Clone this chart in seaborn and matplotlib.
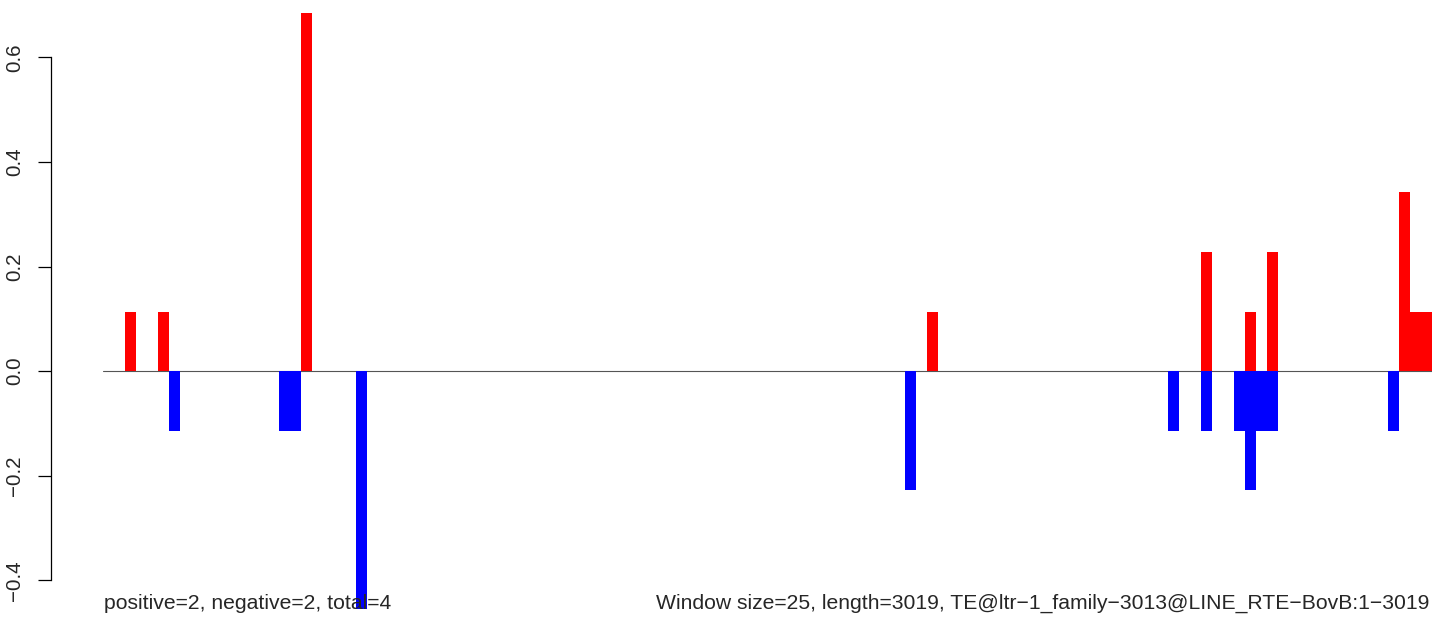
import matplotlib
matplotlib.use("Agg")
import matplotlib.pyplot as plt
import numpy as np
import pandas as pd
import seaborn as sns

# window count: length 3019 / window size 25
n_windows = 121

# windows with positive scores (red) and their values
pos_windows = [2, 5, 18, 75, 100, 104, 106, 118, 119, 120]
pos_values = [0.114, 0.114, 0.685, 0.114, 0.228, 0.114, 0.228, 0.343, 0.114, 0.114]

# windows with negative scores (blue) and their values
neg_windows = [6, 16, 17, 23, 73, 97, 100, 103, 104, 105, 106, 117]
neg_values = [-0.114, -0.114, -0.114, -0.456, -0.228, -0.114, -0.114,
              -0.114, -0.228, -0.114, -0.114, -0.114]

y_ticks = [-0.4, -0.2, 0.0, 0.2, 0.4, 0.6]
y_ticklabels = ["\u22120.4", "\u22120.2", "0.0", "0.2", "0.4", "0.6"]

left_text = "positive=2, negative=2, total=4"
right_text = ("Window size=25, length=3019, "
              "TE@ltr\u22121_family\u22123013@LINE_RTE\u2212BovB:1\u22123019")

df = pd.DataFrame({"window": np.arange(n_windows), "pos": 0.0, "neg": 0.0})
df.loc[pos_windows, "pos"] = pos_values
df.loc[neg_windows, "neg"] = neg_values

sns.set_style("white")
plt.rcParams["font.family"] = ["Liberation Sans", "DejaVu Sans"]

W, H = 1435, 617
fig = plt.figure(figsize=(W / 100, H / 100), dpi=100)
ax = fig.add_axes([103 / W, 8 / H, (1432 - 103) / W, (609 - 13) / H])

order = list(range(n_windows))
sns.barplot(data=df, x="window", y="pos", order=order, color="#ff0000",
            saturation=1, width=1, linewidth=0, errorbar=None, ax=ax, zorder=2)
sns.barplot(data=df, x="window", y="neg", order=order, color="#0000ff",
            saturation=1, width=1, linewidth=0, errorbar=None, ax=ax, zorder=2)

ax.axhline(0, color="#555555", lw=0.8, zorder=1)

ax.set_xlim(-0.5, n_windows - 0.5)
ax.set_ylim(-0.455, 0.685)
ax.set_xlabel("")
ax.set_ylabel("")
ax.set_xticks([])

for side in ["top", "right", "bottom"]:
    ax.spines[side].set_visible(False)
ax.spines["left"].set_position(("outward", 37.5))
ax.spines["left"].set_bounds(-0.4, 0.6)
ax.spines["left"].set_linewidth(0.9)
ax.spines["left"].set_color("black")

ax.set_yticks(y_ticks)
ax.set_yticklabels(y_ticklabels, fontsize=14.8, rotation=90, va="center")
ax.tick_params(axis="y", direction="out", length=9.4, width=0.9,
               color="black", pad=10, left=True)

fig.text(104 / W, 1 - 609 / H, left_text, ha="left", va="baseline", fontsize=15.2)
fig.text(1429 / W, 1 - 609 / H, right_text, ha="right", va="baseline", fontsize=15.2)

fig.savefig("out.png", dpi=100)
